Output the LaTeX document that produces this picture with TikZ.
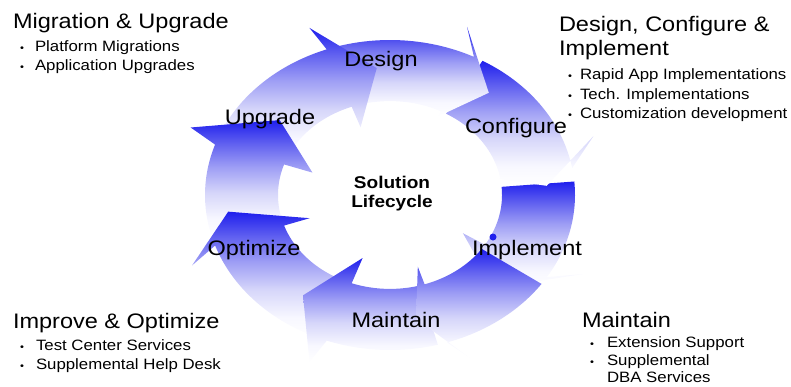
\documentclass[tikz,border=0pt]{standalone}
\usepackage{fontspec}
\setmainfont{Liberation Sans}[FakeStretch=1.12]
\definecolor{cb}{rgb}{0.12,0.12,0.93}
\pgfdeclareverticalshading{cycfade}{100bp}{rgb(0bp)=(1,1,1); rgb(25bp)=(1,1,1); rgb(33bp)=(0.97,0.97,1); rgb(44bp)=(0.84,0.84,0.98); rgb(55bp)=(0.62,0.62,0.96); rgb(65bp)=(0.38,0.38,0.94); rgb(75bp)=(0.12,0.12,0.93); rgb(100bp)=(0.12,0.12,0.93)}
% #1 tail angle, #2 head (inner barb) angle, #3 outer barb angle, #4 tip angle, #5 inner barb radius, #6 tip radius
\newcommand{\cycarrow}[6]{%
  \shade[shading=cycfade]
    plot[domain=0:1,samples=30] ({390+185*cos((#1)+((#2)-(#1))*\x)},{195-155*sin((#1)+((#2)-(#1))*\x)})
    -- ({390+215*cos(#3)},{195-180.2*sin(#3)})
    -- ({390+(#6)*cos(#4)},{195-0.838*(#6)*sin(#4)})
    -- ({390+(#5)*cos(#2)},{195-0.838*(#5)*sin(#2)})
    -- ({390+112*cos(#2)},{195-93.9*sin(#2)})
    -- plot[domain=0:1,samples=30] ({390+112*cos((#2)+((#1)-(#2))*\x)},{195-93.9*sin((#2)+((#1)-(#2))*\x)})
    -- cycle;
}
\tikzset{
  lbl/.style={inner sep=0pt,outer sep=0pt,font=\fontsize{21}{23}\selectfont},
  head/.style={inner sep=0pt,outer sep=0pt,anchor=base west,font=\fontsize{21}{23}\selectfont},
  item/.style={inner sep=0pt,outer sep=0pt,anchor=base west,font=\fontsize{15}{17}\selectfont},
  bul/.style={inner sep=0pt,outer sep=0pt,anchor=base,font=\fontsize{10}{12}\selectfont},
  ctr/.style={inner sep=0pt,outer sep=0pt,anchor=base,font=\bfseries\fontsize{17}{19}\selectfont}
}
\begin{document}
\begin{tikzpicture}[x=1pt,y=-1pt]
\useasboundingbox (0,0) rectangle (791,386);
% cycle arrows (drawn so that each head lies over the next tail)
\cycarrow{5}{-32}{-26}{-47}{86}{152}
\cycarrow{60}{10}{19}{4}{110}{157}
\cycarrow{107}{63}{69}{51}{105}{157}
\cycarrow{158}{110}{112}{95}{86}{152}
\cycarrow{196}{161}{158}{141}{82}{142}
\cycarrow{247}{199}{203}{187}{85}{163}
\cycarrow{-75}{-110}{-112}{-126}{80}{148}
\cycarrow{-35}{-72}{-67}{-80}{90}{150}
\fill[cb] (493,237) circle[radius=3.5];
% cycle labels
\node[lbl,anchor=base] (design) at (381,66) {Design};
\node[lbl,anchor=base] (configure) at (516,133) {Configure};
\node[lbl,anchor=base] (implement) at (527,255) {Implement};
\node[lbl,anchor=base] (maintain) at (396,327) {Maintain};
\node[lbl,anchor=base] (optimize) at (254,255) {Optimize};
\node[lbl,anchor=base] (upgrade) at (270,124) {Upgrade};
\node[ctr] (sol) at (392,188) {Solution};
\node[ctr] (life) at (392,207) {Lifecycle};
% top left
\node[head] (h1) at (13,28) {Migration \& Upgrade};
\node[bul] (b11) at (22,51.5) {•};
\node[item] (t11) at (35,51.5) {Platform Migrations};
\node[bul] (b12) at (22,70) {•};
\node[item] (t12) at (35,70) {Application Upgrades};
% top right
\node[head] (h2a) at (559,31) {Design, Configure \&};
\node[head] (h2b) at (559,55) {Implement};
\node[bul] (b21) at (570,79.5) {•};
\node[item] (t21) at (580,79.5) {Rapid App Implementations};
\node[bul] (b22) at (570,99) {•};
\node[item] (t22) at (580,99) {Tech. Implementations};
\node[bul] (b23) at (570,118) {•};
\node[item] (t23) at (580,118) {Customization development};
% bottom left
\node[head] (h3) at (13,328) {Improve \& Optimize};
\node[bul] (b31) at (22,350) {•};
\node[item] (t31) at (36,350) {Test Center Services};
\node[bul] (b32) at (22,369) {•};
\node[item] (t32) at (36,369) {Supplemental Help Desk};
% bottom right
\node[head] (h4) at (582,327) {Maintain};
\node[bul] (b41) at (592,347) {•};
\node[item] (t41) at (607,347) {Extension Support};
\node[bul] (b42) at (592,365) {•};
\node[item] (t42) at (607,365) {Supplemental};
\node[item] (t43) at (607,382) {DBA Services};
\end{tikzpicture}
\end{document}
